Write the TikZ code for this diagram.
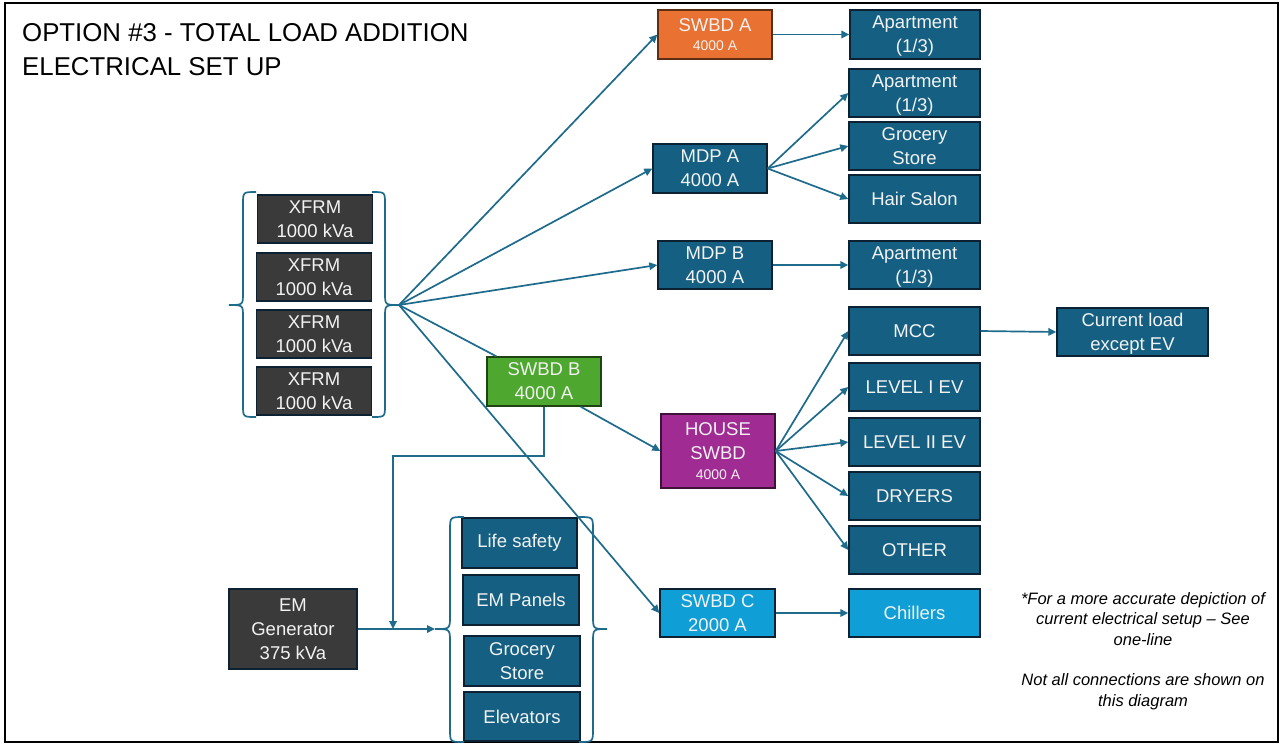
\documentclass[tikz,border=0pt]{standalone}
\usepackage{fontspec}
\setmainfont{Liberation Sans}
\usetikzlibrary{arrows.meta,calc}
\definecolor{boxblue}{HTML}{156082}
\definecolor{boxdark}{HTML}{3A3A3A}
\definecolor{sworange}{HTML}{E97132}
\definecolor{swgreen}{HTML}{4EA72E}
\definecolor{swpurple}{HTML}{A02B93}
\definecolor{swlight}{HTML}{0F9ED5}
\definecolor{wire}{HTML}{1E6B8C}
\definecolor{edge}{HTML}{0C2233}
\definecolor{txt}{HTML}{F2F2F2}
\tikzset{
  unit/.style={draw=edge, line width=1.4pt, fill=boxblue, text=txt, align=center,
    inner sep=0pt, font=\fontsize{18.5}{24}\selectfont},
  darkunit/.style={unit, fill=boxdark},
  wireline/.style={draw=wire, line width=1.7pt},
  feed/.style={wireline, -{Triangle[length=8pt,width=7.5pt]}},
  curly/.style={draw=wire, line width=1.7pt},
}
\newcommand{\ratingtext}{\fontsize{14}{18}\selectfont}
\begin{document}
\begin{tikzpicture}[x=1pt,y=-1pt]
\useasboundingbox (0,0) rectangle (1281,745);
\fill[white] (0,0) rectangle (1281,745);
\draw[black, line width=2pt] (5,3) rectangle (1278,742);

% title
\node[anchor=north west, align=left, inner sep=0pt, font=\fontsize{25.8}{34}\selectfont]
  (title) at (22,23) {OPTION \#3 - TOTAL LOAD ADDITION\\ELECTRICAL SET UP};

% transformers
\node[darkunit, minimum width=115, minimum height=48] (x1) at (315,219) {XFRM\\1000 kVa};
\node[darkunit, minimum width=115, minimum height=48] (x2) at (314,277) {XFRM\\1000 kVa};
\node[darkunit, minimum width=115, minimum height=48] (x3) at (314,334) {XFRM\\1000 kVa};
\node[darkunit, minimum width=115, minimum height=48] (x4) at (314,391) {XFRM\\1000 kVa};

% braces around the transformers
\draw[curly] (256,192) .. controls (243,192) .. (243,204) -- (243,293)
  .. controls (243,305) .. (229,305) .. controls (243,305) .. (243,317) -- (243,405)
  .. controls (243,417) .. (256,417);
\draw[curly] (372,192) .. controls (385,192) .. (385,204) -- (385,293)
  .. controls (385,305) .. (399,305) .. controls (385,305) .. (385,317) -- (385,405)
  .. controls (385,417) .. (372,417);
\coordinate (xbus) at (399,305);

% switchboards and panels
\node[unit, fill=sworange, draw=sworange!40!black, minimum width=114, minimum height=49] (swbda) at (715,34.5)
  {SWBD A\\[-5pt]{\ratingtext 4000 A}};
\node[unit, minimum width=114, minimum height=49] (mdpa) at (710,168.5) {MDP A\\4000 A};
\node[unit, minimum width=114, minimum height=48] (mdpb) at (715,265) {MDP B\\4000 A};
\node[unit, fill=swgreen, draw=swgreen!40!black, minimum width=114, minimum height=49] (swbdb) at (544,381.5) {SWBD B\\4000 A};
\node[unit, fill=swpurple, draw=swpurple!40!black, minimum width=114, minimum height=74] (house) at (718,451)
  {HOUSE\\SWBD\\[-4pt]{\ratingtext 4000 A}};
\node[unit, fill=swlight, minimum width=115, minimum height=48] (swbdc) at (717.5,613) {SWBD C\\2000 A};

% loads
\node[unit, minimum width=130, minimum height=49] (apt1) at (915,34.5) {Apartment\\\smash{(1/3)}};
\node[unit, minimum width=131, minimum height=48] (apt2) at (914.5,93) {Apartment\\\smash{(1/3)}};
\node[unit, minimum width=131, minimum height=48] (groc) at (914.5,146) {Grocery\\Store};
\node[unit, minimum width=131, minimum height=48] (hair) at (914.5,199) {Hair Salon};
\node[unit, minimum width=131, minimum height=48] (apt3) at (914.5,265) {Apartment\\\smash{(1/3)}};
\node[unit, minimum width=131, minimum height=48] (mcc) at (914.5,331) {MCC};
\node[unit, minimum width=151, minimum height=48] (cur) at (1132.5,332) {Current load\\\smash{except EV}};
\node[unit, minimum width=131, minimum height=48] (lvl1) at (914.5,387) {LEVEL I EV};
\node[unit, minimum width=131, minimum height=48] (lvl2) at (914.5,442) {LEVEL II EV};
\node[unit, minimum width=131, minimum height=48] (dry) at (914.5,496) {DRYERS};
\node[unit, minimum width=131, minimum height=48] (oth) at (914.5,550) {OTHER};
\node[unit, fill=swlight, minimum width=131, minimum height=48] (chill) at (914.5,613) {Chillers};

% emergency side
\node[darkunit, minimum width=128, minimum height=80] (emgen) at (293,629) {EM\\Generator\\375 kVa};
\node[unit, minimum width=115, minimum height=50] (life) at (519.5,543) {Life safety};
\node[unit, minimum width=116, minimum height=50] (empan) at (521,600) {EM Panels};
\node[unit, minimum width=116, minimum height=50] (groc2) at (522,661) {Grocery\\Store};
\node[unit, minimum width=116, minimum height=49] (elev) at (522,716.5) {Elevators};

% braces around the emergency loads
\draw[curly] (464,517) .. controls (450,517) .. (450,530) -- (450,616)
  .. controls (450,629) .. (435,629) .. controls (450,629) .. (450,642) -- (450,729)
  .. controls (450,742) .. (464,742);
\draw[curly] (579,517) .. controls (593,517) .. (593,530) -- (593,616)
  .. controls (593,629) .. (607,629) .. controls (593,629) .. (593,642) -- (593,729)
  .. controls (593,742) .. (579,742);
\coordinate (embus) at (435,629);
\coordinate (emjoin) at (393,629);
\coordinate (embend) at (393,456);

% feeders from the transformer bank
\draw[feed] (xbus) -- (swbda.west);
\draw[feed] (xbus) -- (mdpa.west);
\draw[feed] (xbus) -- (mdpb.west);
\draw[wireline] (xbus) -- (swbdb);
\draw[feed] (xbus) -- (swbdc.west);

% branch circuits
\draw[feed] (swbda.east) -- (apt1.west);
\draw[feed] (mdpa.east) -- (apt2.west);
\draw[feed] (mdpa.east) -- (groc.west);
\draw[feed] (mdpa.east) -- (hair.west);
\draw[feed] (mdpb.east) -- (apt3.west);
\draw[feed] ($(swbdb.south east)+(-21,0)$) -- (house.west);
\draw[feed] (house.east) -- (mcc.west);
\draw[feed] (house.east) -- (lvl1.west);
\draw[feed] (house.east) -- (lvl2.west);
\draw[feed] (house.east) -- (dry.west);
\draw[feed] (house.east) -- (oth.west);
\draw[feed] (mcc.east) -- (cur.west);
\draw[feed] (swbdc.east) -- (chill.west);

% emergency feed
\draw[feed] (swbdb.south) |- (embend) -- (emjoin);
\draw[feed] (emgen.east) -- (embus);

% notes
\node[align=center, inner sep=0pt, font=\itshape\fontsize{16.5}{20.8}\selectfont] (note1) at (1143,619)
  {*For a more accurate depiction of\\current electrical setup -- See\\one-line};
\node[align=center, inner sep=0pt, font=\itshape\fontsize{16.5}{20.8}\selectfont] (note2) at (1143,692)
  {Not all connections are shown on\\this diagram};
\end{tikzpicture}
\end{document}
